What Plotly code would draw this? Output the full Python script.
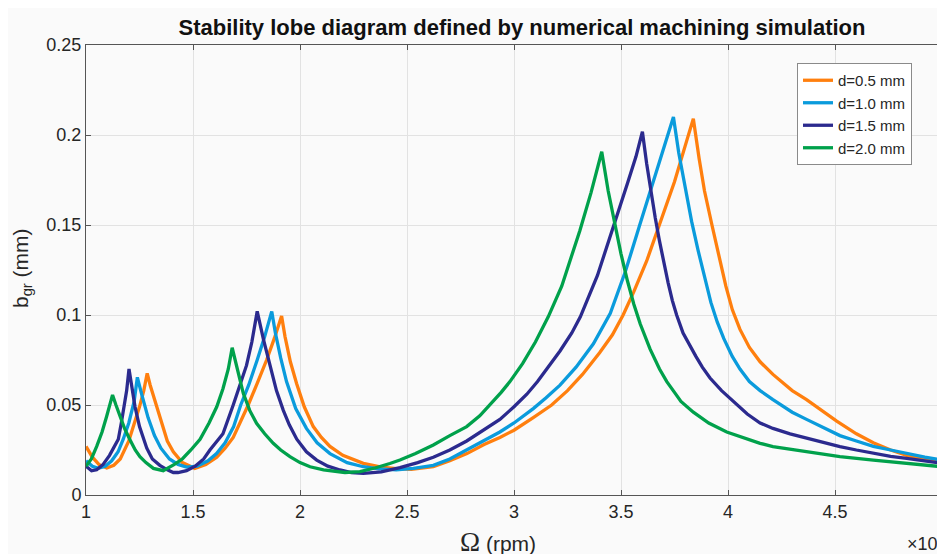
import plotly.graph_objects as go

# ---- data (x in units of 10^4 rpm, y = b_gr in mm) ----
x_d05 = [1.00, 1.03, 1.06, 1.097, 1.13, 1.16, 1.20, 1.225, 1.25, 1.27, 1.286,
         1.30, 1.33, 1.354, 1.38, 1.408, 1.45, 1.508,
         1.56, 1.611, 1.65, 1.688, 1.72, 1.758, 1.80, 1.844, 1.88, 1.914,
         1.93, 1.955, 1.984, 2.02, 2.062, 2.10, 2.14, 2.20, 2.296, 2.38, 2.452, 2.52,
         2.623, 2.70, 2.78, 2.86, 2.934, 3.00, 3.09, 3.176, 3.25, 3.32, 3.40, 3.46,
         3.51, 3.56, 3.62, 3.68, 3.75, 3.81, 3.838,
         3.865, 3.89, 3.925, 3.96, 3.99, 4.02, 4.056, 4.10, 4.15, 4.21, 4.30, 4.367, 4.45, 4.508,
         4.60, 4.679, 4.76, 4.835, 4.92, 5.00]
y_d05 = [0.027, 0.021, 0.017, 0.015, 0.0165, 0.020, 0.030, 0.039, 0.049, 0.058, 0.0676,
         0.061, 0.049, 0.039, 0.030, 0.024, 0.018, 0.0148,
         0.017, 0.021, 0.026, 0.032, 0.040, 0.050, 0.062, 0.075, 0.087, 0.0994,
         0.088, 0.074, 0.062, 0.049, 0.038, 0.032, 0.027, 0.022, 0.0176, 0.0155, 0.0146, 0.0143,
         0.0157, 0.019, 0.023, 0.028, 0.032, 0.036, 0.043, 0.050, 0.058, 0.067, 0.079, 0.089,
         0.100, 0.113, 0.130, 0.150, 0.174, 0.198, 0.209,
         0.187, 0.169, 0.150, 0.131, 0.116, 0.103, 0.092, 0.082, 0.074, 0.067, 0.058, 0.053, 0.046, 0.041,
         0.034, 0.029, 0.025, 0.022, 0.020, 0.0176]

x_d10 = [1.00, 1.03, 1.058, 1.09, 1.12, 1.15, 1.174, 1.20, 1.225, 1.24,
         1.26, 1.29, 1.32, 1.35, 1.39, 1.43, 1.47,
         1.52, 1.57, 1.61, 1.65, 1.69, 1.723, 1.76, 1.80, 1.835, 1.868,
         1.885, 1.91, 1.937, 1.98, 2.03, 2.08, 2.14, 2.22, 2.296, 2.37, 2.45,
         2.53, 2.623, 2.70, 2.779, 2.86, 2.934, 3.00, 3.09, 3.15, 3.215, 3.29, 3.371,
         3.45, 3.52, 3.585, 3.65, 3.72, 3.745,
         3.77, 3.80, 3.83, 3.86, 3.89, 3.92, 3.95, 3.98, 4.02, 4.056, 4.10, 4.15, 4.21, 4.30, 4.367,
         4.45, 4.523, 4.60, 4.679, 4.76, 4.835, 4.92, 5.00]
y_d10 = [0.019, 0.016, 0.0148, 0.016, 0.019, 0.024, 0.031, 0.040, 0.052, 0.0654,
         0.056, 0.043, 0.033, 0.026, 0.020, 0.017, 0.0155,
         0.016, 0.019, 0.023, 0.029, 0.038, 0.050, 0.061, 0.075, 0.088, 0.102,
         0.090, 0.076, 0.063, 0.048, 0.037, 0.029, 0.023, 0.018, 0.0157, 0.0145, 0.014,
         0.0148, 0.0165, 0.020, 0.025, 0.030, 0.035, 0.040, 0.048, 0.054, 0.061, 0.071, 0.084,
         0.101, 0.124, 0.149, 0.174, 0.200, 0.210,
         0.190, 0.170, 0.152, 0.136, 0.121, 0.107, 0.096, 0.087, 0.077, 0.070, 0.063, 0.058, 0.053, 0.046, 0.042,
         0.037, 0.033, 0.030, 0.027, 0.025, 0.023, 0.021, 0.0194]

x_d15 = [1.00, 1.026, 1.05, 1.08, 1.11, 1.13, 1.151, 1.165, 1.178, 1.19, 1.201,
         1.215, 1.229, 1.25, 1.284, 1.31, 1.345, 1.38, 1.408, 1.43,
         1.47, 1.51, 1.55, 1.579, 1.64, 1.688, 1.72, 1.75, 1.775, 1.80,
         1.83, 1.86, 1.89, 1.922, 1.95, 1.985, 2.03, 2.078, 2.13, 2.187, 2.24, 2.296,
         2.38, 2.467, 2.55, 2.623, 2.70, 2.779, 2.86, 2.934, 3.00, 3.06, 3.11, 3.16,
         3.215, 3.27, 3.31, 3.39, 3.46, 3.53, 3.57, 3.60,
         3.62, 3.64, 3.66, 3.68, 3.70, 3.72, 3.74, 3.76, 3.79, 3.82, 3.85, 3.88, 3.916, 3.97, 4.025,
         4.09, 4.15, 4.21, 4.29, 4.367, 4.45, 4.523, 4.60, 4.679, 4.76, 4.835, 4.92, 5.00]
y_d15 = [0.016, 0.0135, 0.014, 0.017, 0.022, 0.026, 0.031, 0.040, 0.050, 0.058, 0.070,
         0.058, 0.049, 0.038, 0.026, 0.020, 0.0165, 0.014, 0.0125, 0.0125,
         0.0135, 0.016, 0.020, 0.025, 0.034, 0.050, 0.061, 0.072, 0.085, 0.102,
         0.086, 0.0713, 0.058, 0.047, 0.039, 0.031, 0.024, 0.0194, 0.016, 0.0139, 0.0125, 0.012,
         0.0128, 0.0152, 0.018, 0.021, 0.025, 0.030, 0.036, 0.042, 0.049, 0.056, 0.063, 0.071,
         0.080, 0.090, 0.099, 0.122, 0.147, 0.173, 0.188, 0.2018,
         0.184, 0.168, 0.154, 0.141, 0.129, 0.118, 0.108, 0.100, 0.090, 0.083, 0.077, 0.071, 0.065, 0.058, 0.052,
         0.045, 0.040, 0.037, 0.034, 0.0315, 0.029, 0.0269, 0.025, 0.0231, 0.0215, 0.0204, 0.019, 0.0176]

x_d20 = [1.00, 1.025, 1.05, 1.075, 1.096, 1.124,
         1.14, 1.159, 1.18, 1.206, 1.23, 1.252, 1.28, 1.315, 1.361,
         1.413, 1.45, 1.49, 1.533, 1.575, 1.611, 1.64, 1.665, 1.683,
         1.71, 1.735, 1.765, 1.797, 1.835, 1.875, 1.91, 1.953, 2.00, 2.047, 2.11, 2.171, 2.21,
         2.28, 2.35, 2.42, 2.467, 2.54, 2.623, 2.70, 2.779, 2.84, 2.888, 2.94, 2.981,
         3.04, 3.10, 3.16, 3.223, 3.265, 3.308, 3.36, 3.41,
         3.44, 3.472, 3.50, 3.53, 3.56, 3.59, 3.636, 3.68, 3.714, 3.75, 3.78, 3.838, 3.91,
         3.994, 4.056, 4.15, 4.21, 4.367, 4.523, 4.679, 4.835, 5.00]
y_d20 = [0.016, 0.020, 0.027, 0.035, 0.0435, 0.0556,
         0.050, 0.0435, 0.037, 0.0306, 0.025, 0.0213, 0.018, 0.0148, 0.0135,
         0.017, 0.020, 0.025, 0.031, 0.040, 0.049, 0.059, 0.070, 0.0818,
         0.068, 0.0565, 0.047, 0.0398, 0.034, 0.0287, 0.025, 0.0213, 0.018, 0.0157, 0.014, 0.013, 0.0125,
         0.013, 0.015, 0.0175, 0.0194, 0.023, 0.0278, 0.033, 0.038, 0.044, 0.050, 0.057, 0.063,
         0.073, 0.085, 0.099, 0.116, 0.131, 0.147, 0.168, 0.1907,
         0.169, 0.150, 0.134, 0.119, 0.106, 0.095, 0.081, 0.070, 0.063, 0.057, 0.052, 0.046, 0.040,
         0.035, 0.0324, 0.0287, 0.0269, 0.024, 0.0213, 0.0194, 0.0176, 0.0157]

series_names = ["d=0.5 mm", "d=1.0 mm", "d=1.5 mm", "d=2.0 mm"]
series_colors = ["#FF7F0E", "#0A9BDC", "#2B2A8E", "#00A14B"]

x_tickvals = [1, 1.5, 2, 2.5, 3, 3.5, 4, 4.5, 5]
x_ticktext = ["1", "1.5", "2", "2.5", "3", "3.5", "4", "4.5", "5"]
y_tickvals = [0, 0.05, 0.1, 0.15, 0.2, 0.25]
y_ticktext = ["0", "0.05", "0.1", "0.15", "0.2", "0.25"]

FONT = "Liberation Sans, Arial, sans-serif"
OFF = 8  # page body margin in the browser

W, H = 945 - OFF, 554 - OFF
PL, PR, PT, PB = 86, 942, 45, 495  # plot area in screen pixels

fig = go.Figure()
for xs, ys, name, col in zip([x_d05, x_d10, x_d15, x_d20],
                             [y_d05, y_d10, y_d15, y_d20],
                             series_names, series_colors):
    fig.add_trace(go.Scatter(x=xs, y=ys, mode="lines", name=name,
                             line=dict(color=col, width=3.3)))

fig.update_layout(
    width=W, height=H,
    margin=dict(l=PL - OFF, r=W - (PR - OFF), t=PT - OFF, b=H - (PB - OFF), autoexpand=False),
    paper_bgcolor="#FAFAFA", plot_bgcolor="#FAFAFA",
    font=dict(family=FONT, size=18, color="#262626"),
    title=dict(text="<b>Stability lobe diagram defined by numerical machining simulation</b>",
               x=(522 - OFF) / W, xanchor="center", y=1 - (27 - OFF) / H, yanchor="middle",
               font=dict(family=FONT, size=22, color="#111111")),
    showlegend=True,
    legend=dict(x=(797 - PL) / (PR - PL), y=(PB - 63) / (PB - PT), xanchor="left", yanchor="top",
                bgcolor="#FFFFFF", bordercolor="#8A8A8A", borderwidth=1,
                font=dict(family=FONT, size=15, color="#262626"),
                itemwidth=30, tracegroupgap=0),
    xaxis=dict(range=[1, 5], tickvals=x_tickvals, ticktext=x_ticktext, automargin=False,
               ticklabeloverflow="allow",
               showgrid=True, gridcolor="#E2E2E2", gridwidth=1,
               zeroline=False, showline=True, linecolor="#555555", linewidth=1,
               mirror="ticks", ticks="inside", ticklen=5, tickcolor="#555555",
               tickfont=dict(size=18)),
    yaxis=dict(range=[0, 0.25], tickvals=y_tickvals, ticktext=y_ticktext, automargin=False,
               showgrid=True, gridcolor="#E2E2E2", gridwidth=1,
               zeroline=False, showline=True, linecolor="#555555", linewidth=1,
               mirror="ticks", ticks="inside", ticklen=5, tickcolor="#555555",
               tickfont=dict(size=18)),
)

def px_x(p):
    return (p - PL) / (PR - PL)

def px_y(p):
    return (PB - p) / (PB - PT)

fig.add_annotation(text="<span style='font-family:Liberation Serif, Times New Roman, serif;font-size:27px'>Ω</span> (rpm)",
                   xref="paper", yref="paper", x=px_x(498), y=px_y(542),
                   xanchor="center", yanchor="middle", showarrow=False,
                   font=dict(family=FONT, size=21, color="#262626"))
fig.add_annotation(text="b<sub>gr</sub> (mm)", textangle=-90,
                   xref="paper", yref="paper", x=px_x(22), y=px_y(268),
                   xanchor="center", yanchor="middle", showarrow=False,
                   font=dict(family=FONT, size=21, color="#262626"))
fig.add_annotation(text="×10<sup>4</sup>",
                   xref="paper", yref="paper", x=px_x(905), y=px_y(542),
                   xanchor="left", yanchor="middle", showarrow=False,
                   font=dict(family=FONT, size=18, color="#262626"))

fig.write_html("out.html")
